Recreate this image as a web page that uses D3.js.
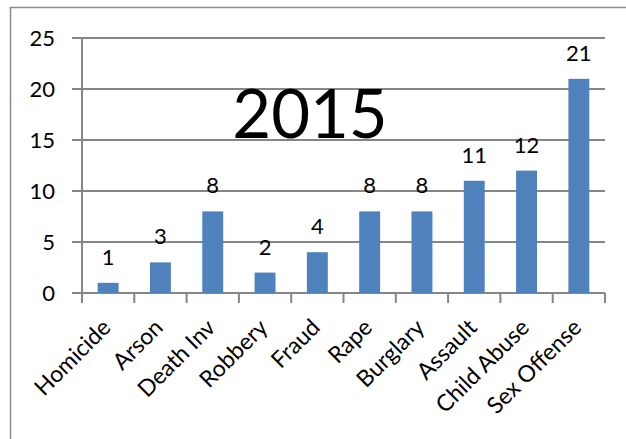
<!DOCTYPE html>
<html>
<head>
<meta charset="utf-8">
<script src="https://cdn.jsdelivr.net/npm/d3@7"></script>
<style>
  body { margin: 0; background: #fff; }
  svg { display: block; }
  text { font-family: Lato, "Open Sans", sans-serif; fill: #000; }
</style>
</head>
<body>
<div id="chart"></div>
<script>
// chart data
const categories = ['Homicide', 'Arson', 'Death Inv', 'Robbery', 'Fraud', 'Rape', 'Burglary', 'Assault', 'Child Abuse', 'Sex Offense']
const counts = [1, 3, 8, 2, 4, 8, 8, 11, 12, 21]
const yTicks = [0, 5, 10, 15, 20, 25]
const title = '2015'

let width = 626
let height = 439
let margin = { top: 38, right: 21, bottom: 146, left: 82 }
let innerW = width - margin.left - margin.right
let innerH = height - margin.top - margin.bottom

let svg = d3.select('#chart')
  .append('svg')
  .attr('width', width)
  .attr('height', height)

// outer chart border (runs off the page to the right and bottom)
svg.append('path')
  .attr('d', `M10.5,${height + 5} V7.5 H${width + 5}`)
  .attr('fill', 'none')
  .attr('stroke', '#8c8c8c')
  .attr('stroke-width', 1.5)

let g = svg.append('g')
  .attr('transform', `translate(${margin.left}, ${margin.top})`)

let x = d3.scaleBand()
  .domain(categories)
  .range([0, innerW])
  .paddingInner(0.6)
  .paddingOuter(0.3)

let xEdges = d3.scaleLinear().domain([0, categories.length]).range([0, innerW])

let y = d3.scaleLinear()
  .domain([0, 25])
  .range([innerH, 0])

// gridlines + left tick marks
g.append('g')
  .selectAll('line')
  .data(yTicks)
  .enter()
  .append('line')
  .attr('x1', -10)
  .attr('x2', innerW)
  .attr('y1', d => y(d))
  .attr('y2', d => y(d))
  .attr('stroke', '#868686')
  .attr('stroke-width', 2)

// y axis line
g.append('line')
  .attr('x1', 0).attr('x2', 0)
  .attr('y1', 0).attr('y2', innerH + 10)
  .attr('stroke', '#868686')
  .attr('stroke-width', 2)

// category boundary ticks below the axis
g.append('g')
  .selectAll('line')
  .data(d3.range(1, categories.length + 1))
  .enter()
  .append('line')
  .attr('x1', d => xEdges(d))
  .attr('x2', d => xEdges(d))
  .attr('y1', innerH)
  .attr('y2', innerH + 10)
  .attr('stroke', '#868686')
  .attr('stroke-width', 2)

// y labels
g.append('g')
  .selectAll('text')
  .data(yTicks)
  .enter()
  .append('text')
  .attr('x', -27)
  .attr('y', d => y(d))
  .attr('dy', '0.36em')
  .attr('text-anchor', 'end')
  .style('font-size', '22px')
  .text(d => d)

// bars
g.append('g')
  .selectAll('rect')
  .data(counts)
  .enter()
  .append('rect')
  .attr('x', (d, i) => x(categories[i]))
  .attr('width', x.bandwidth())
  .attr('y', d => y(d))
  .attr('height', d => innerH - y(d))
  .attr('fill', '#4f81bd')

// value labels
g.append('g')
  .selectAll('text')
  .data(counts)
  .enter()
  .append('text')
  .attr('x', (d, i) => x(categories[i]) + x.bandwidth() / 2)
  .attr('y', d => y(d) - 18)
  .attr('text-anchor', 'middle')
  .style('font-size', '22px')
  .text(d => d)

// category labels, rotated
g.append('g')
  .selectAll('text')
  .data(categories)
  .enter()
  .append('text')
  .attr('transform', d => `translate(${x(d) + x.bandwidth() / 2 + 4}, ${innerH + 36}) rotate(-45)`)
  .attr('text-anchor', 'end')
  .style('font-size', '23px')
  .text(d => d)

// big title inside plot
svg.append('text')
  .attr('x', 310)
  .attr('y', 138)
  .attr('text-anchor', 'middle')
  .style('font-size', '67px')
  .text(title)
</script>
</body>
</html>
